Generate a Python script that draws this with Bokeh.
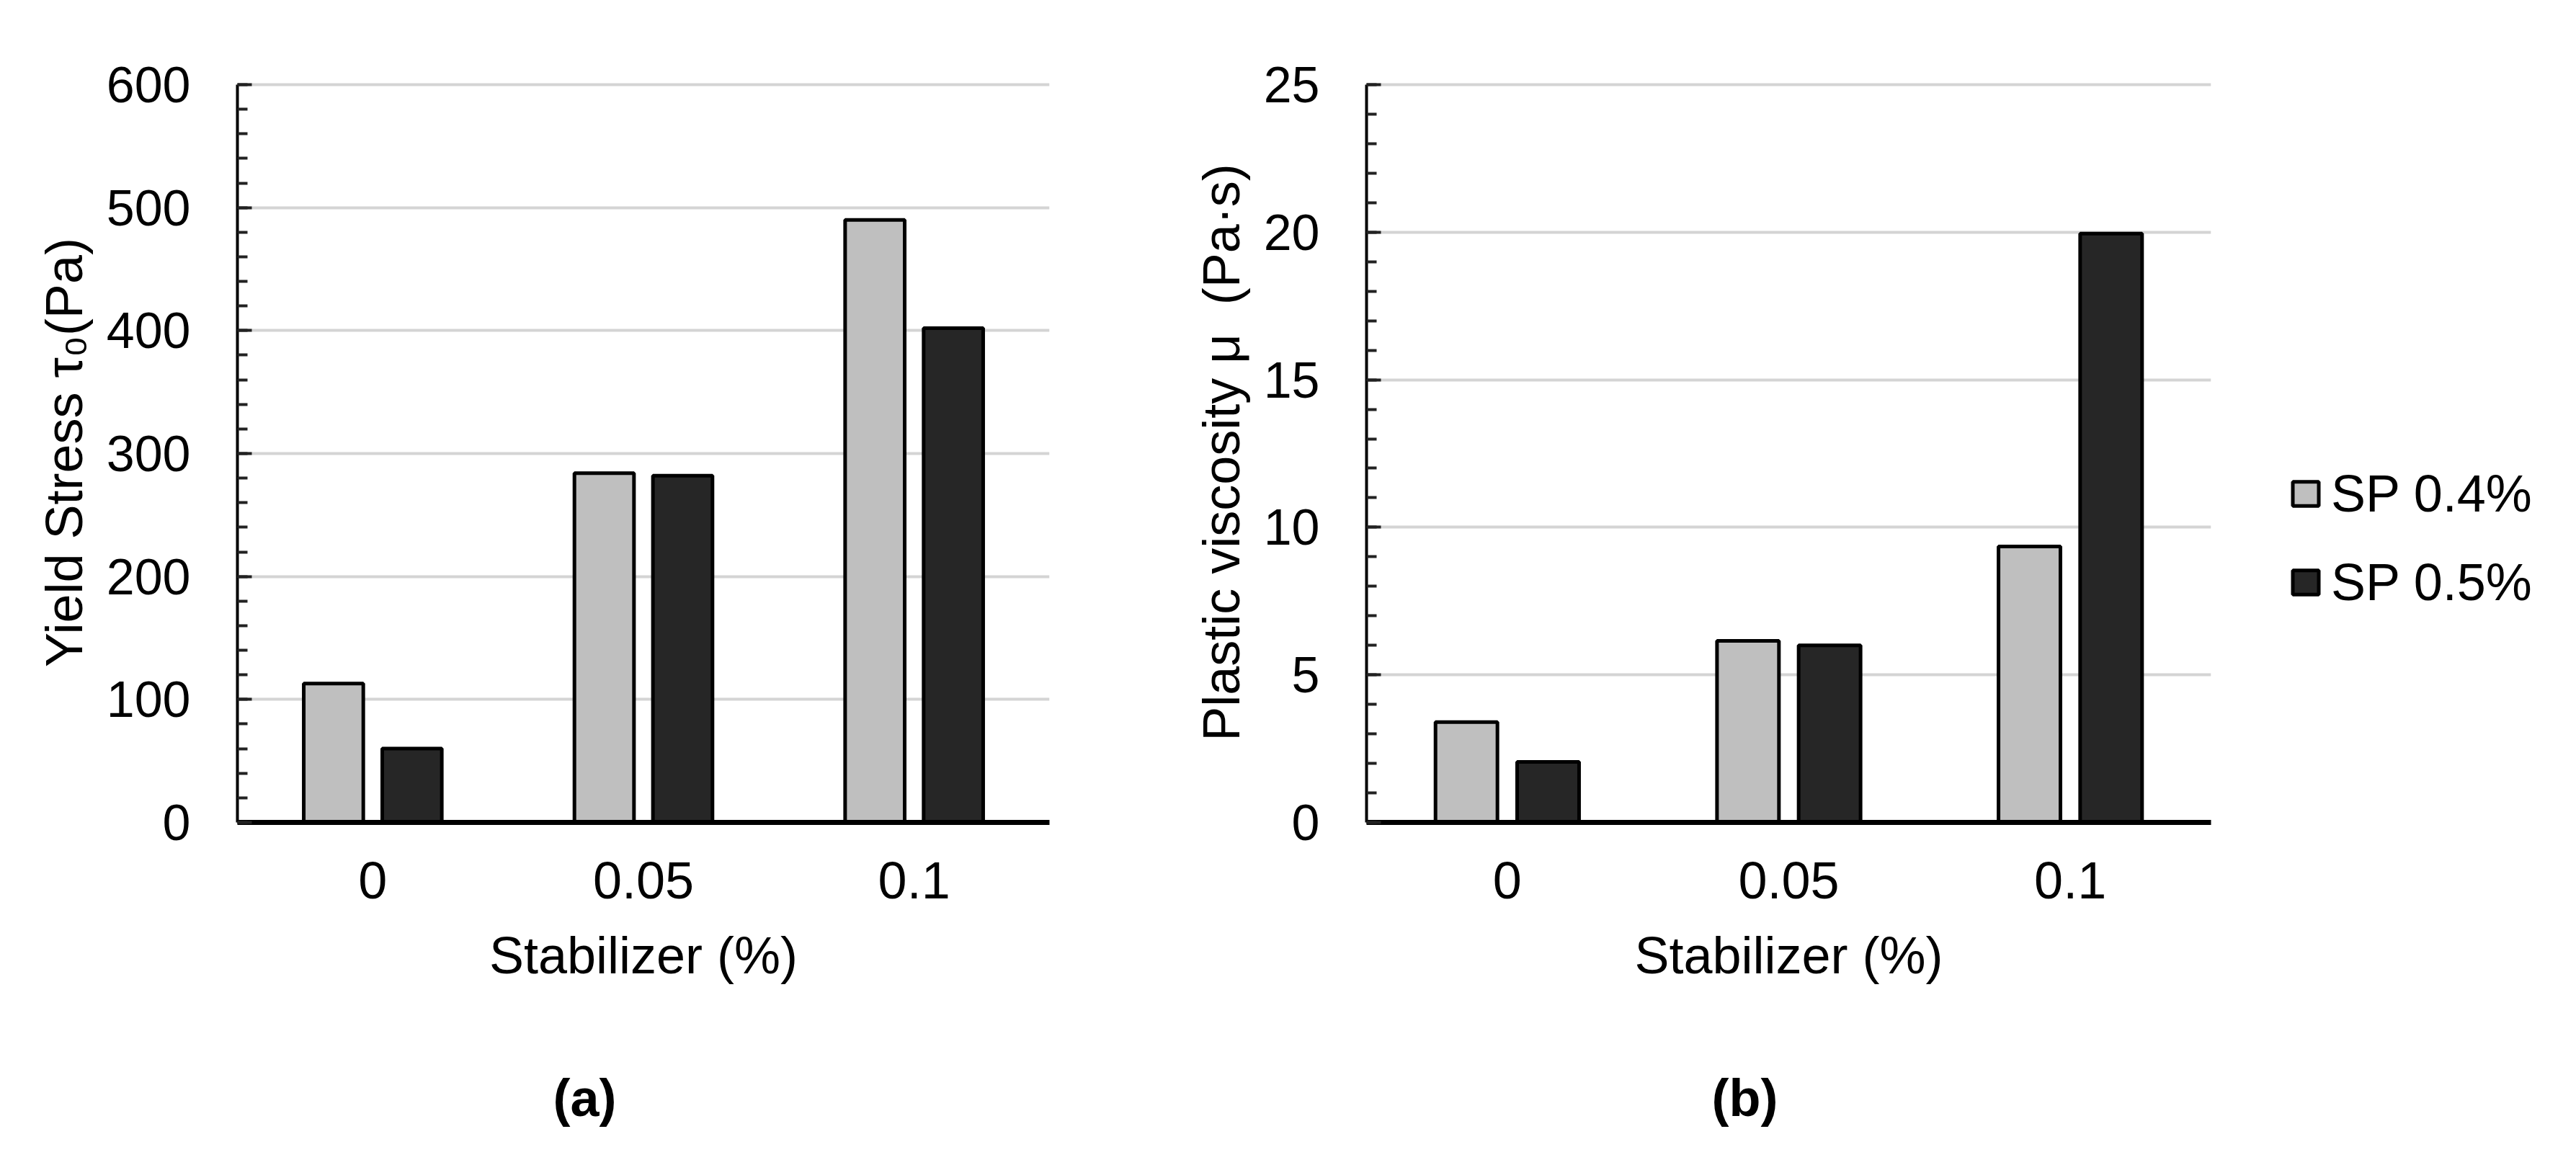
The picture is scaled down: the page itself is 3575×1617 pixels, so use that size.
from bokeh.plotting import figure
from bokeh.models import (Range1d, FactorRange, SingleIntervalTicker, Legend, LegendItem,
                          Title, ColumnDataSource)
from bokeh.transform import dodge
from bokeh.layouts import row
from bokeh.embed import file_html
from bokeh.resources import INLINE

# ---- data ----
categories = ["0", "0.05", "0.1"]
series_labels = ["SP 0.4%", "SP 0.5%"]
yield_sp04 = [113, 284, 490]
yield_sp05 = [60, 282, 402]
visc_sp04 = [3.4, 6.15, 9.35]
visc_sp05 = [2.05, 6.0, 19.95]
yield_max, yield_step = 600, 100
visc_max, visc_step = 25, 5

FONT = "Liberation Sans"
LIGHT = "#bfbfbf"
DARK = "#262626"
FRAME_H = 1024
PAD_PX = 3  # room above the top gridline so it is not clipped


def make_fig(vals_a, vals_b, ymax, interval, ylabel, sub, min_left, min_right, frame_w, title_offset):
    src = ColumnDataSource(dict(cat=categories, a=vals_a, b=vals_b))
    ytop = ymax * (FRAME_H + PAD_PX) / FRAME_H
    p = figure(x_range=FactorRange(*categories), y_range=Range1d(0, ytop),
               frame_width=frame_w, frame_height=FRAME_H + PAD_PX,
               min_border_left=min_left, min_border_right=min_right,
               min_border_top=114, min_border_bottom=20,
               output_backend="svg", toolbar_location=None)
    p.outline_line_color = None
    r1 = p.vbar(x=dodge("cat", -0.145, range=p.x_range), top="a", width=0.22, source=src,
                fill_color=LIGHT, line_color="black", line_width=5)
    r2 = p.vbar(x=dodge("cat", 0.145, range=p.x_range), top="b", width=0.22, source=src,
                fill_color=DARK, line_color="black", line_width=5)

    # y axis
    ya = p.yaxis[0]
    ya.bounds = (0, ymax)
    ya.ticker = SingleIntervalTicker(interval=interval, num_minor_ticks=5)
    ya.axis_line_color = "black"
    ya.axis_line_width = 4
    ya.major_tick_in = 20
    ya.major_tick_out = 0
    ya.minor_tick_in = 14
    ya.minor_tick_out = 0
    ya.major_tick_line_width = 4
    ya.minor_tick_line_width = 4
    ya.major_tick_line_color = "#222222"
    ya.minor_tick_line_color = "#222222"
    ya.major_label_text_font = FONT
    ya.major_label_text_font_size = "70px"
    ya.major_label_text_color = "black"
    ya.major_label_standoff = 65
    ya.axis_label = ylabel
    ya.axis_label_text_font = FONT
    ya.axis_label_text_font_size = "72px"
    ya.axis_label_text_font_style = "normal"
    ya.axis_label_text_color = "black"
    ya.axis_label_standoff = 16

    # x axis
    xa = p.xaxis[0]
    xa.axis_line_color = "black"
    xa.axis_line_width = 7
    xa.major_tick_line_color = None
    xa.minor_tick_line_color = None
    xa.major_label_text_font = FONT
    xa.major_label_text_font_size = "72px"
    xa.major_label_text_color = "black"
    xa.major_label_standoff = 49
    xa.axis_label = "Stabilizer (%)"
    xa.axis_label_text_font = FONT
    xa.axis_label_text_font_size = "72px"
    xa.axis_label_text_font_style = "normal"
    xa.axis_label_text_color = "black"
    xa.axis_label_standoff = 36

    p.xgrid.grid_line_color = None
    p.ygrid.grid_line_color = "#d4d4d4"
    p.ygrid.grid_line_width = 4

    t = Title(text=sub, align="left", offset=title_offset, text_font=FONT,
              text_font_size="72px", text_font_style="bold", text_color="black", standoff=226)
    p.add_layout(t, "below")
    return p, r1, r2


p1, _, _ = make_fig(yield_sp04, yield_sp05, yield_max, yield_step,
                    "Yield Stress τ₀(Pa)", "(a)", 329, 40, 1127, 438)
p2, r1, r2 = make_fig(visc_sp04, visc_sp05, visc_max, visc_step,
                      "Plastic viscosity μ\u00a0 (Pa·s)", "(b)", 400, 491, 1172, 479)

legend = Legend(items=[LegendItem(label=series_labels[0], renderers=[r1]),
                       LegendItem(label=series_labels[1], renderers=[r2])],
                location=(109, 292), orientation="vertical",
                label_text_font=FONT, label_text_font_size="72px", label_text_color="black",
                glyph_width=45, glyph_height=42, label_standoff=13, spacing=41,
                padding=0, margin=0, border_line_color=None, background_fill_alpha=0)
p2.add_layout(legend, "right")

layout = row(p1, p2)
open("out.html", "w").write(file_html(layout, INLINE))
